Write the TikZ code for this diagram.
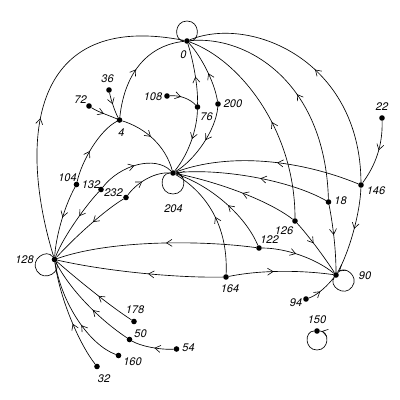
\documentclass[tikz,border=0pt]{standalone}
\usepackage{fontspec}
\setmainfont{TeX Gyre Heros}
\usetikzlibrary{arrows.meta,decorations.markings,calc}
\begin{document}
\begin{tikzpicture}[x=1pt,y=-1pt,
  dot/.style={circle,fill=black,inner sep=0pt,minimum size=5.6pt},
  lab/.style={font=\fontsize{11}{11}\selectfont\itshape,inner sep=0pt},
  con/.style={line width=0.65pt,postaction={decorate,decoration={markings,
     mark=at position #1 with {\arrow{Straight Barb[length=5.5pt,width=7pt,line width=0.6pt]}}}}},
  con/.default=0.45,
  plainline/.style={line width=0.65pt}]
\useasboundingbox (0,0) rectangle (400,400);
% nodes
\node[dot] (n0)   at (187,41) {};
\node[dot] (n4)   at (119.5,120) {};
\node[dot] (n36)  at (109,90) {};
\node[dot] (n72)  at (89,106) {};
\node[dot] (n108) at (167,96) {};
\node[dot] (n76)  at (197.5,107) {};
\node[dot] (n200) at (218,104) {};
\node[dot] (n204) at (173,173) {};
\node[dot] (n104) at (76.5,184.5) {};
\node[dot] (n132) at (101,189.5) {};
\node[dot] (n232) at (126,197.5) {};
\node[dot] (n128) at (54.5,259.5) {};
\node[dot] (n178) at (134,321.5) {};
\node[dot] (n50)  at (129.5,339.5) {};
\node[dot] (n54)  at (176.5,349) {};
\node[dot] (n160) at (118.5,355.5) {};
\node[dot] (n32)  at (97,366.5) {};
\node[dot] (n90)  at (336,275) {};
\node[dot] (n94)  at (306,299) {};
\node[dot] (n150) at (317,331) {};
\node[dot] (n164) at (226,277) {};
\node[dot] (n122) at (259,248) {};
\node[dot] (n126) at (295,221) {};
\node[dot] (n18)  at (328.5,202) {};
\node[dot] (n146) at (361,185) {};
\node[dot] (n22)  at (382,118) {};
% labels
\node[lab] (l0)   at (183.5,55) {0};
\node[lab] (l36)  at (107.5,79) {36};
\node[lab] (l72)  at (80.5,99.5) {72};
\node[lab] (l4)   at (121.5,132.5) {4};
\node[lab] (l108) at (153,97) {108};
\node[lab] (l76)  at (206.5,117) {76};
\node[lab] (l200) at (233,104) {200};
\node[lab] (l204) at (173.5,208.5) {204};
\node[lab] (l104) at (67.5,177.5) {104};
\node[lab] (l132) at (91,184.5) {132};
\node[lab] (l232) at (113.5,192.5) {232};
\node[lab] (l128) at (24.5,260) {128};
\node[lab] (l178) at (135,310) {178};
\node[lab] (l50)  at (140.5,334) {50};
\node[lab] (l54)  at (188.5,348) {54};
\node[lab] (l160) at (132.5,362) {160};
\node[lab] (l32)  at (104,379) {32};
\node[lab] (l90)  at (365,276) {90};
\node[lab] (l94)  at (296,302.5) {94};
\node[lab] (l150) at (317,320) {150};
\node[lab] (l164) at (230,288.5) {164};
\node[lab] (l122) at (269.5,240) {122};
\node[lab] (l126) at (284,231) {126};
\node[lab] (l18)  at (340.5,201) {18};
\node[lab] (l146) at (376,190.5) {146};
\node[lab] (l22)  at (382,107) {22};
% edges
\draw[con=0.43] (n128) .. controls (18,140) and (30,10) .. (n0);
\draw[con=0.47] (n4) .. controls (125,70) and (150,45) .. (n0);
\draw[con] (n36) .. controls (111,100) and (115,112) .. (n4);
\draw[con=0.5] (n72) .. controls (98,112) and (108,115) .. (n4);
\draw[con] (n4) .. controls (145,128) and (165,145) .. (n204);
\draw[con] (n104) .. controls (82,160) and (100,130) .. (n4);
\draw[con] (n104) .. controls (65,205) and (56,235) .. (n128);
\draw[con=0.5] (n132) .. controls (120,165) and (155,155) .. (n204);
\draw[con=0.4] (n132) .. controls (88,203) and (64,235) .. (n128);
\draw[con=0.4] (n232) .. controls (135,185) and (152,172) .. (n204);
\draw[con=0.43] (n232) .. controls (105,210) and (75,237) .. (n128);
\draw[con] (n76) .. controls (198,85) and (193,60) .. (n0);
\draw[con] (n76) .. controls (197,130) and (188,155) .. (n204);
\draw[con=0.4] (n108) .. controls (180,95) and (190,99) .. (n76);
\draw[con] (n200) .. controls (214,80) and (200,55) .. (n0);
\draw[con] (n200) .. controls (216,130) and (195,160) .. (n204);
\draw[con=0.48] (n146) .. controls (360,60) and (250,15) .. (n0);
\draw[con=0.47] (n18) .. controls (325,80) and (245,35) .. (n0);
\draw[con=0.46] (n126) .. controls (295,130) and (240,60) .. (n0);
\draw[con=0.47] (n146) .. controls (360,215) and (348,255) .. (n90);
\draw[con] (n18) .. controls (333,225) and (336,250) .. (n90);
\draw[con=0.42] (n126) .. controls (308,235) and (325,258) .. (n90);
\draw[con] (n22) .. controls (383,150) and (372,170) .. (n146);
\draw[con] (n146) .. controls (300,160) and (230,152) .. (n204);
\draw[con] (n18) .. controls (290,180) and (220,168) .. (n204);
\draw[con] (n126) .. controls (265,198) and (210,180) .. (n204);
\draw[con] (n122) .. controls (245,215) and (210,185) .. (n204);
\draw[con=0.5] (n164) .. controls (228,230) and (210,195) .. (n204);
\draw[con=0.43] (n164) .. controls (260,270) and (300,270) .. (n90);
\draw[con] (n164) .. controls (180,278) and (110,272) .. (n128);
\draw[con] (n122) .. controls (285,248) and (315,258) .. (n90);
\draw[con] (n122) .. controls (200,240) and (110,240) .. (n128);
\draw[con=0.4] (n94) .. controls (318,295) and (328,285) .. (n90);
\draw[con=0.43] (n178) .. controls (110,306) and (78,280) .. (n128);
\draw[con=0.42] (n50) .. controls (100,320) and (70,290) .. (n128);
\draw[con] (n54) .. controls (160,350) and (140,346) .. (n50);
\draw[con=0.4] (n160) .. controls (90,345) and (62,305) .. (n128);
\draw[con=0.42] (n32) .. controls (80,345) and (60,300) .. (n128);
% loops
\draw[plainline] (n0) .. controls +(-13.3,0) and +(-13.3,0) .. ++(0,-20) .. controls +(13.3,0) and +(13.3,0) .. (n0);
\draw[con=0.97] (n204) .. controls +(-14,0) and +(-14,0) .. ++(0,21) .. controls +(14,0) and +(14,0) .. (n204);
\draw[plainline] (n128) .. controls +(7.7,11.6) and +(7.7,11.6) .. ++(-17.5,11.6) .. controls +(-7.7,-11.6) and +(-7.7,-11.6) .. (n128);
\draw[con=0.97] (n90) .. controls +(-8,10.7) and +(-8,10.7) .. ++(16,12) .. controls +(8,-10.7) and +(8,-10.7) .. (n90);
\draw[con=0.97] (n150) .. controls +(-12.7,0) and +(-12.7,0) .. ++(0,19) .. controls +(12.7,0) and +(12.7,0) .. (n150);
\end{tikzpicture}
\end{document}
